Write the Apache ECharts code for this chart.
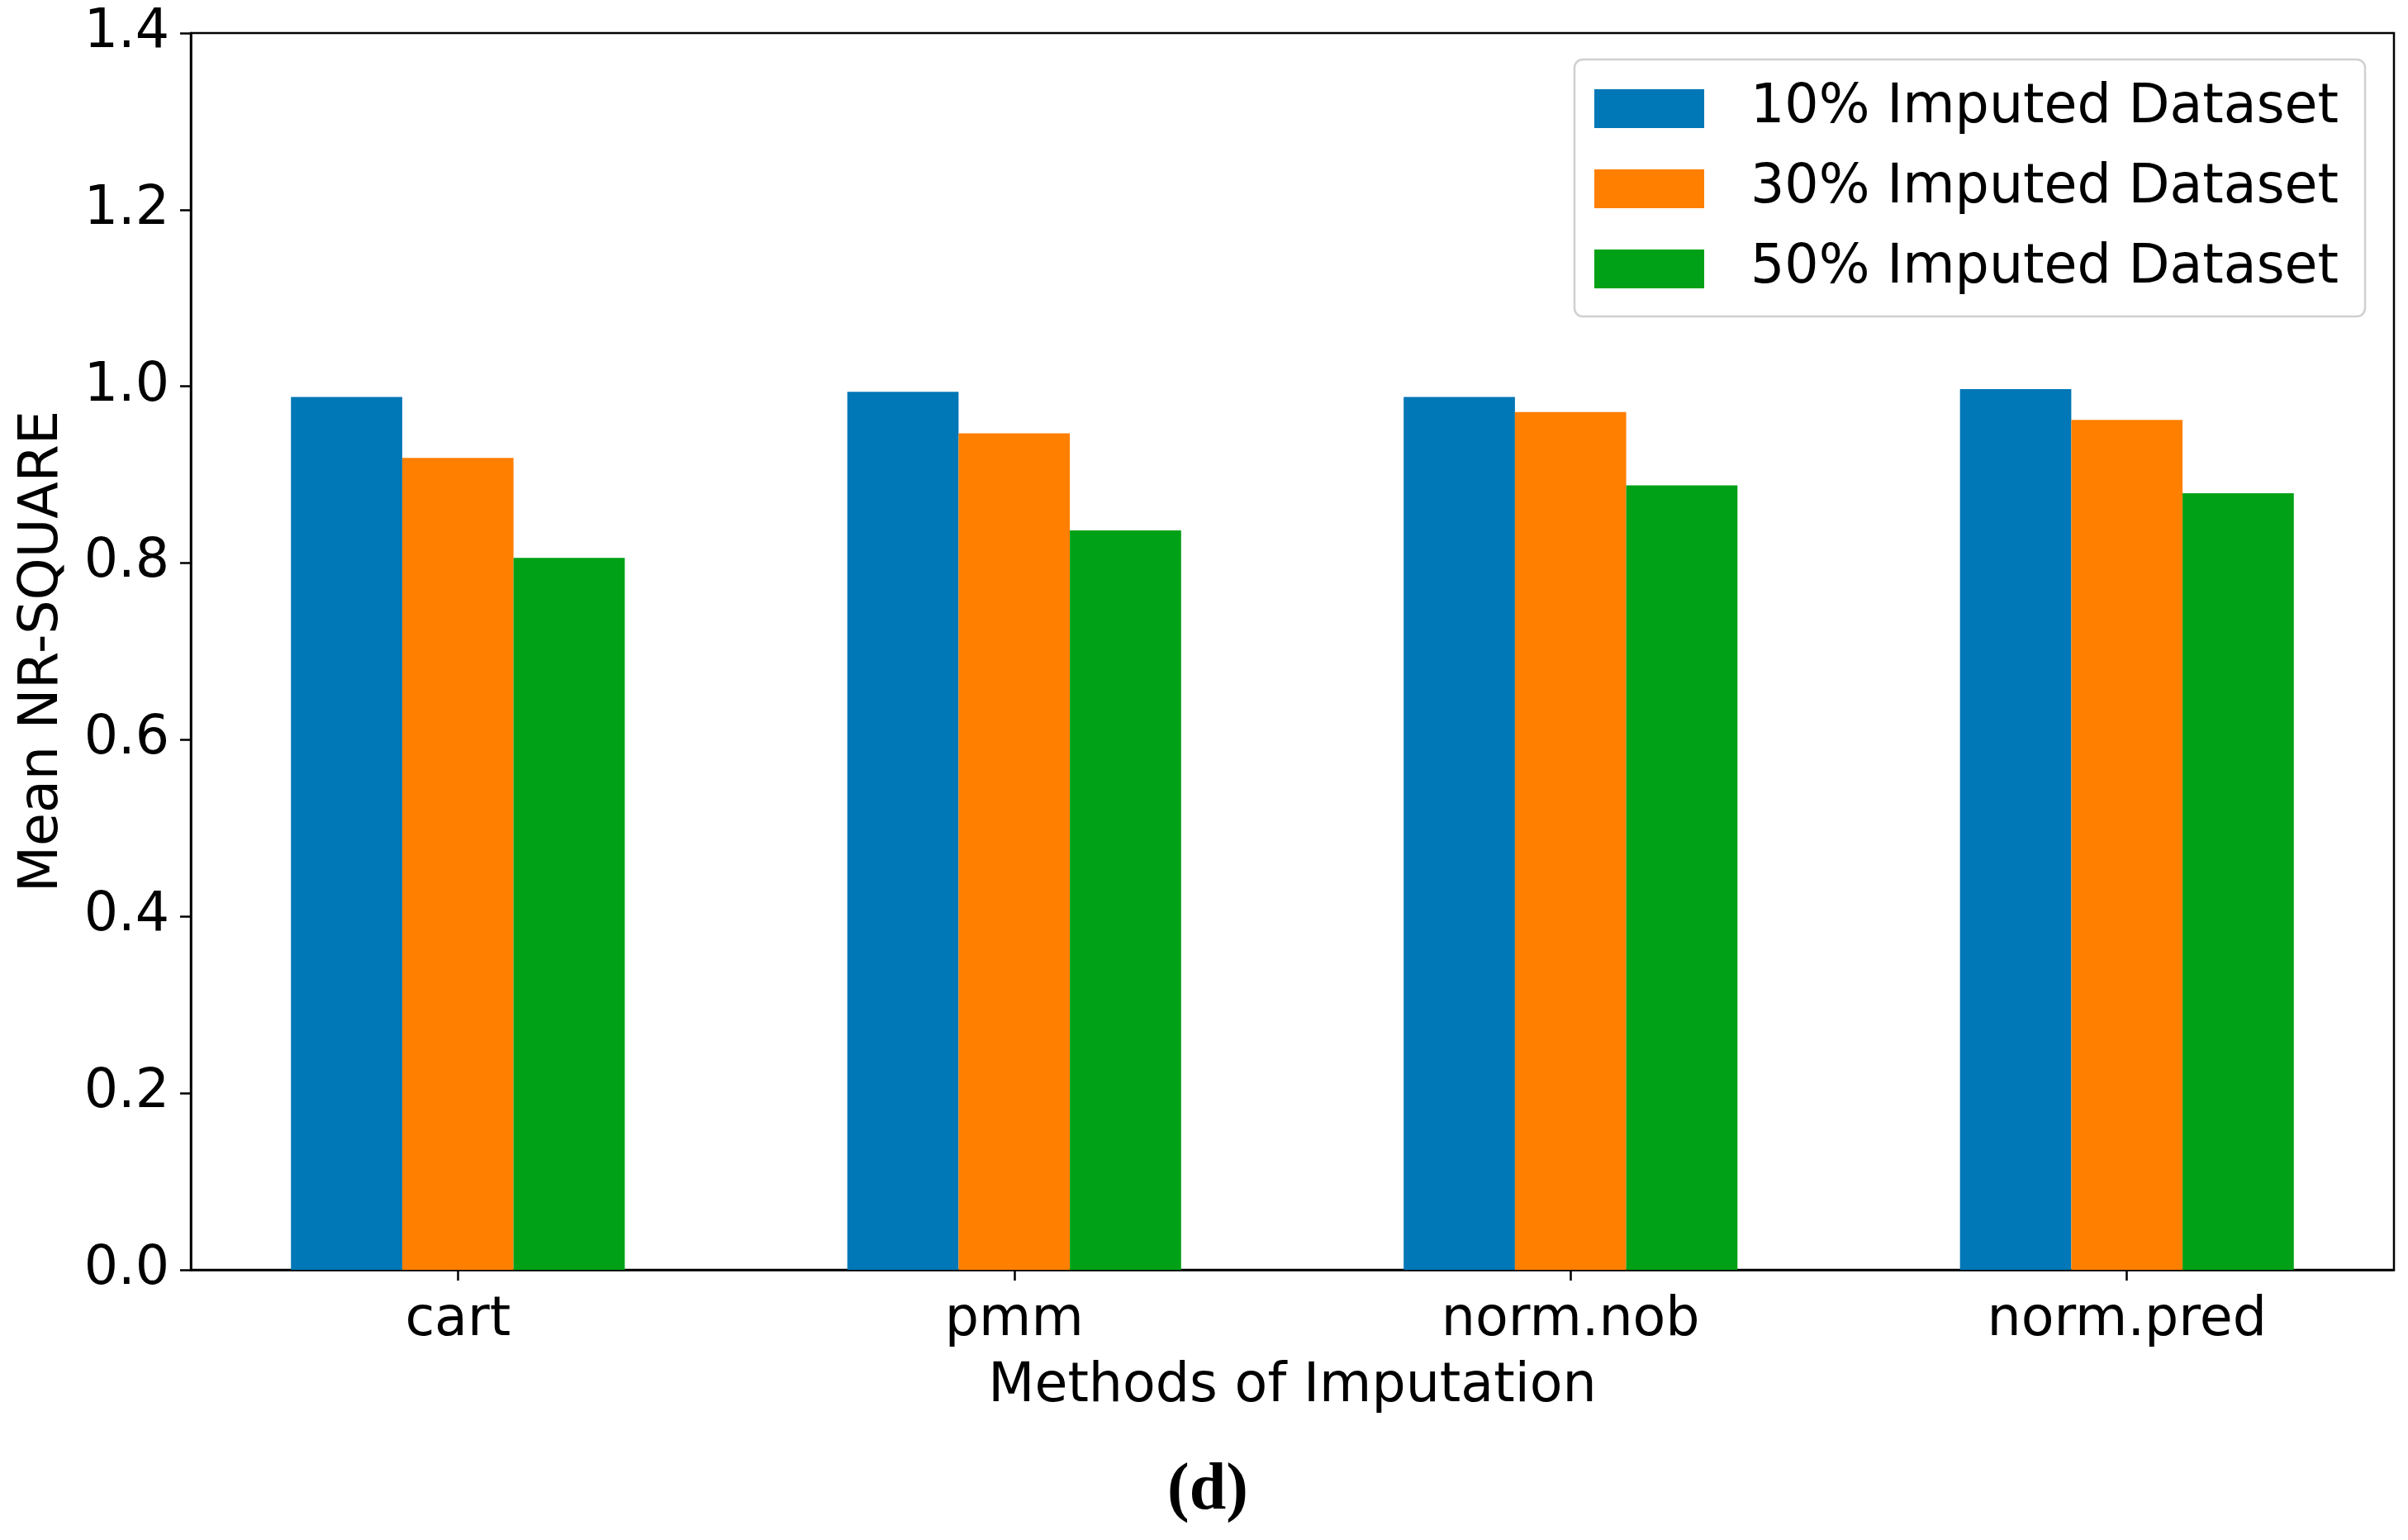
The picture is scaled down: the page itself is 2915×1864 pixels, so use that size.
<!DOCTYPE html>
<html>
<head>
<meta charset="utf-8">
<script src="https://cdn.jsdelivr.net/npm/echarts@6/dist/echarts.min.js"></script>
<style>
html,body{margin:0;padding:0;background:#fff;}
#c{width:2915px;height:1864px;}
</style>
</head>
<body>
<div id="c"></div>
<script>
const categories = ['cart', 'pmm', 'norm.nob', 'norm.pred'];
const seriesNames = ['10% Imputed Dataset', '30% Imputed Dataset', '50% Imputed Dataset'];
const imputed10 = [0.988, 0.994, 0.988, 0.997];
const imputed30 = [0.919, 0.947, 0.971, 0.962];
const imputed50 = [0.806, 0.837, 0.888, 0.879];
const yTicks = [0, 0.2, 0.4, 0.6, 0.8, 1.0, 1.2, 1.4];

const colors = ['#0077b6', '#ff7f00', '#00a116'];
const seriesValues = [imputed10, imputed30, imputed50];
const FONT = 'DejaVu Sans';

const chart = echarts.init(document.getElementById('c'), null, {renderer: 'canvas'});
chart.setOption({
  backgroundColor: '#fff',
  animation: false,
  title: {
    text: '(d)',
    left: 1457, top: 1760,
    textAlign: 'center',
    textStyle: {fontFamily: 'Liberation Serif', fontWeight: 'bold', fontSize: 80, color: '#000'}
  },
  grid: {
    left: 231, top: 40, right: 17, bottom: 327,
    show: true, borderColor: '#000', borderWidth: 2.5, backgroundColor: 'transparent'
  },
  legend: {
    orient: 'vertical',
    left: 1906, top: 72,
    padding: [27, 32, 25, 24],
    itemWidth: 133, itemHeight: 47, itemGap: 32,
    icon: 'rect',
    backgroundColor: '#fff',
    borderColor: '#d0d0d0', borderWidth: 2.5, borderRadius: 10,
    textStyle: {fontFamily: FONT, fontSize: 65, color: '#000', padding: [0, 0, 0, 51]},
    data: seriesNames
  },
  xAxis: {
    type: 'value',
    min: -0.48, max: 3.48,
    name: 'Methods of Imputation',
    nameLocation: 'middle', nameGap: 110,
    nameTextStyle: {fontFamily: FONT, fontSize: 65, color: '#000'},
    axisLine: {show: true, onZero: false, lineStyle: {color: '#000', width: 2.5}},
    axisTick: {show: true, length: 13, lineStyle: {color: '#000', width: 2.5}, customValues: [0, 1, 2, 3]},
    axisLabel: {
      fontFamily: FONT, fontSize: 65, color: '#000', margin: 30,
      customValues: [0, 1, 2, 3],
      formatter: v => categories[Math.round(v)]
    },
    splitLine: {show: false}
  },
  yAxis: {
    type: 'value',
    min: 0, max: 1.4, interval: 0.2,
    name: 'Mean NR-SQUARE',
    nameLocation: 'middle', nameGap: 146,
    nameTextStyle: {fontFamily: FONT, fontSize: 65, color: '#000'},
    axisLine: {show: true, onZero: false, lineStyle: {color: '#000', width: 2.5}},
    axisTick: {show: true, length: 13, lineStyle: {color: '#000', width: 2.5}},
    axisLabel: {fontFamily: FONT, fontSize: 65, color: '#000', margin: 26, formatter: v => v.toFixed(1)},
    splitLine: {show: false}
  },
  series: seriesValues.map((vals, i) => ({
    name: seriesNames[i],
    type: 'bar',
    barWidth: 134.7,
    barGap: '0%',
    itemStyle: {color: colors[i]},
    data: vals.map((v, j) => [j, v])
  }))
});
</script>
</body>
</html>
